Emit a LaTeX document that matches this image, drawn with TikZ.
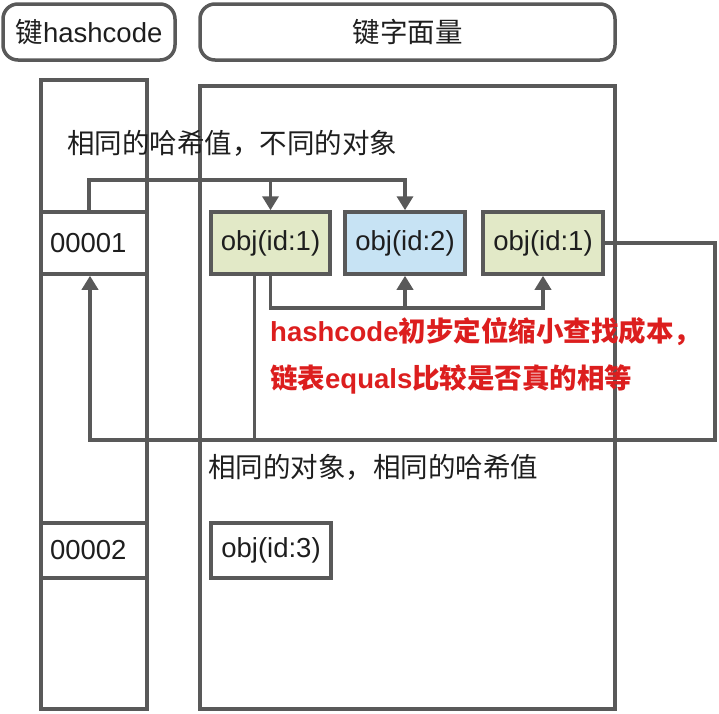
\documentclass[tikz,border=0pt]{standalone}
\usepackage{fontspec}
\setmainfont{Liberation Sans}
\newfontfamily\cjk{Noto Sans CJK SC}
\usetikzlibrary{arrows.meta}
\definecolor{ln}{HTML}{595959}
\definecolor{txt}{HTML}{1E1E1E}
\definecolor{gr}{HTML}{E2E9C7}
\definecolor{bl}{HTML}{C7E3F4}
\definecolor{rd}{HTML}{DC1E1E}
\tikzset{
  base/.style={draw=ln, line width=3.5pt, text=txt, font=\fontsize{27.5}{33}\selectfont, inner sep=0pt},
  rbox/.style={base, rounded corners=15pt},
  sbox/.style={base},
  keybox/.style={base, fill=white, align=left, text width=88pt, inner xsep=9pt, inner ysep=0pt},
  objbox/.style={base, minimum width=119pt},
  lbl/.style={anchor=west, inner sep=0pt, text=txt, font=\fontsize{27.5}{33}\selectfont},
  redlbl/.style={anchor=west, inner sep=0pt, text=rd, font=\fontsize{27.5}{33}\selectfont\bfseries},
  line/.style={draw=ln, line width=3.5pt},
  conn/.style={line, -{Triangle[length=14pt,width=16pt]}}
}
\begin{document}
\begin{tikzpicture}[x=1pt,y=-1pt]
\useasboundingbox (0,0) rectangle (719,713);
% headers
\node[rbox, minimum width=172pt, minimum height=56pt] (hk) at (89,32) {{\cjk 键}hashcode};
\node[rbox, minimum width=415pt, minimum height=56pt] (lit) at (407.5,32) {\cjk 键字面量};
% columns
\node[sbox, minimum width=106pt, minimum height=629pt] (col) at (94,394.5) {};
\node[sbox, minimum width=415pt, minimum height=623pt] (big) at (407.5,397.5) {};
% keys
\node[keybox, minimum height=62pt] (k1) at (94,243) {00001};
\node[keybox, minimum height=55pt] (k2) at (94,550.5) {00002};
% objects
\node[objbox, minimum height=62pt, fill=gr] (o1) at (270.5,243) {obj(id:1)};
\node[objbox, minimum height=62pt, fill=bl, minimum width=120pt] (o2) at (405,243) {obj(id:2)};
\node[objbox, minimum height=62pt, fill=gr, minimum width=120pt] (o3) at (543,243) {obj(id:1)};
\node[objbox, minimum height=55pt, fill=white, minimum width=120pt] (o4) at (271,550.5) {obj(id:3)};
% texts
\node[lbl] (t1) at (67,143) {\cjk 相同的哈希值，不同的对象};
\node[lbl] (t2) at (208,467) {\cjk 相同的对象，相同的哈希值};
\node[redlbl] (r1) at (270,332) {hashcode{\cjk 初步定位缩小查找成本，}};
\node[redlbl] (r2) at (270,379) {{\cjk 链表}equals{\cjk 比较是否真的相等}};
% helper coordinates
\coordinate (tA) at (89,180);
\coordinate (tB) at (271,308);
\coordinate (tC) at (715,440);
% connectors
\draw[conn] ([xshift=-5pt]k1.north) |- (tA) -| (o2.north);
\draw[conn] (o1.north |- tA) -- (o1.north);
\draw[conn] (o1.south) |- (tB) -| (o3.south);
\draw[conn] (o2.south |- tB) -- (o2.south);
\draw[line] ([xshift=-16pt]o1.south) -- ([xshift=-16pt]o1.south |- tC);
\draw[conn] (o3.east) -| (tC) -| ([xshift=-4pt]k1.south);
\end{tikzpicture}
\end{document}
